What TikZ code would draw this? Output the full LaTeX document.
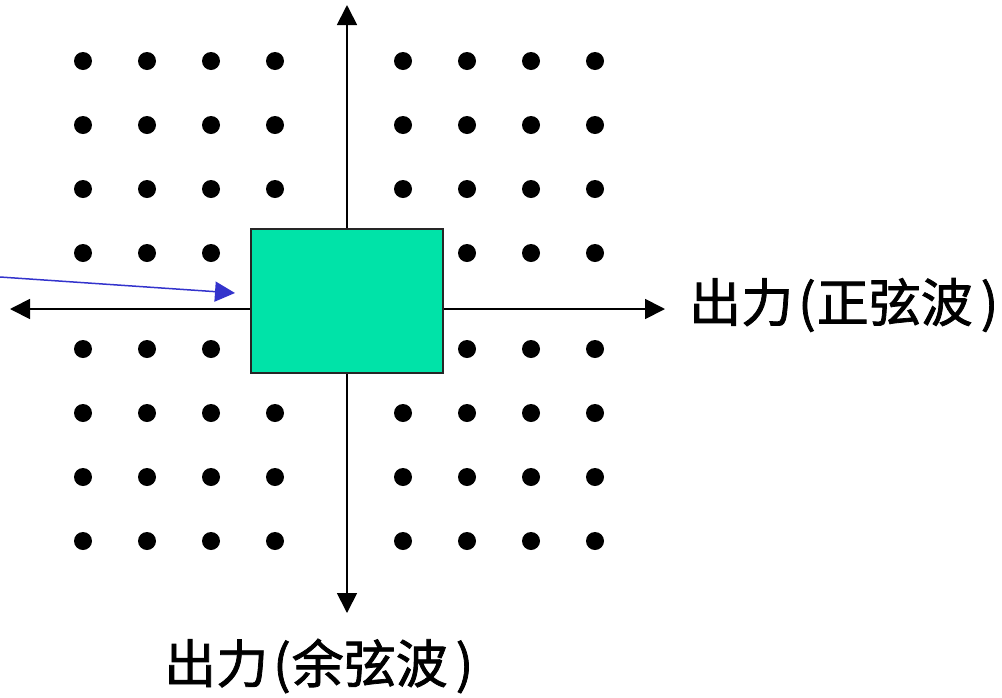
\documentclass[tikz,border=0pt]{standalone}
\usepackage{fontspec}
\newfontfamily\cjk[FakeBold=1.5]{Noto Sans CJK SC}
\usetikzlibrary{arrows.meta}
\begin{document}
\begin{tikzpicture}[x=1pt,y=-1pt,
  dotmark/.style={fill=black,draw=none},
  axis/.style={draw=black,line width=1.8pt,-{Triangle[length=20pt,width=20pt]}},
  inarrow/.style={draw=cblue,line width=1.5pt,-{Triangle[length=20pt,width=20pt]}},
  boxstyle/.style={draw=black!85,line width=2pt,fill=cbox,minimum width=192pt,minimum height=144pt,inner sep=0pt},
  lab/.style={font=\cjk\fontsize{52}{56}\selectfont,inner sep=0pt}]
\definecolor{cbox}{HTML}{00E3A8}
\definecolor{cblue}{HTML}{3333CC}
\useasboundingbox (0,0) rectangle (1002,697);
\foreach \x in {83,147,211,275,403,467,531,595}
  \foreach \y in {61,125,189,253,349,413,477,541}
    \fill[dotmark] (\x,\y) circle[radius=9pt];
\coordinate (L) at (10,309);
\coordinate (R) at (665,309);
\coordinate (T) at (347,5);
\coordinate (B) at (347,613);
\coordinate (S) at (0,277);
\coordinate (E) at (235,293);
\node[boxstyle] (box) at (347,301) {};
\draw[axis] (L -| box.west) -- (L);
\draw[axis] (R -| box.east) -- (R);
\draw[axis] (T |- box.north) -- (T);
\draw[axis] (B |- box.south) -- (B);
\draw[inarrow] (S) -- (E);
\node[lab,anchor=west] (rl) at (689,305) {出力\hspace{5pt}(\hspace{1pt}正弦波\hspace{8pt})};
\node[lab,anchor=west] (bl) at (164,666) {出力\hspace{5pt}(\hspace{1pt}余弦波\hspace{8pt})};
\end{tikzpicture}
\end{document}
